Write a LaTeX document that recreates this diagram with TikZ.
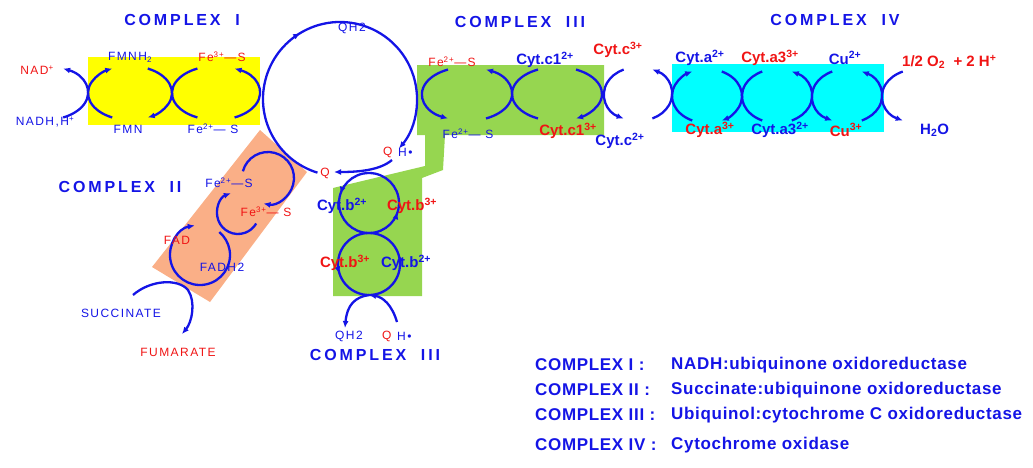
\documentclass[tikz,border=0pt]{standalone}
\usepackage{fontspec}
\setmainfont{Liberation Sans}
\usetikzlibrary{arrows.meta,decorations.markings}
\definecolor{cb}{RGB}{20,20,230}
\definecolor{cr}{RGB}{240,20,20}
\definecolor{yel}{RGB}{255,255,0}
\definecolor{grn}{RGB}{150,214,80}
\definecolor{cya}{RGB}{0,255,255}
\definecolor{org}{RGB}{250,175,135}
\newcommand\su[1]{\textsuperscript{#1}}
\newcommand\sbx[1]{\textsubscript{#1}}
\tikzset{
 ch/.style={draw=cb,line width=2.3pt},
 tipE/.style={-{Latex[length=7pt,width=6pt]}},
 tipS/.style={{Latex[length=7pt,width=6pt]}-},
 bl/.style={text=cb,inner sep=0pt},
 rd/.style={text=cr,inner sep=0pt},
 ttl/.style={text=cb,font=\fontsize{16}{16}\selectfont\bfseries\addfontfeature{LetterSpace=18},inner sep=0pt},
 sm/.style={font=\fontsize{12}{12}\selectfont\addfontfeature{LetterSpace=12}},
 big/.style={font=\fontsize{15}{15}\selectfont\bfseries},
 leg/.style={text=cb,font=\fontsize{17}{17}\selectfont\bfseries\addfontfeature{LetterSpace=4},inner sep=0pt,anchor=west},
 mk/.style={postaction={decorate,decoration={markings,mark=at position #1 with {\arrow{Latex[length=7pt,width=6pt]}}}}}
}
\newcommand\larc[5]{\draw[ch,#5] (#1,#2) ++(115:#3 and #4) arc[start angle=115,end angle=245,x radius=#3,y radius=#4];}
\newcommand\rarc[5]{\draw[ch,#5] (#1,#2) ++(-65:#3 and #4) arc[start angle=-65,end angle=65,x radius=#3,y radius=#4];}
\begin{document}
\begin{tikzpicture}[x=1pt,y=-1pt]
\useasboundingbox (0,0) rectangle (1033,467);
\fill[yel] (88,57) rectangle (260,125);
\fill[grn] (417,65) -- (604,65) -- (604,135) -- (445,135) -- (443,170) -- (422,178) -- (422,296) -- (333,296) -- (333,188) -- (425,166) -- (425,135) -- (417,135) -- cycle;
\fill[cya] (672,64) rectangle (884,132);
\fill[org] (260,130) -- (307,172) -- (210,302) -- (152,267) -- cycle;

\node[ttl] (t1) at (182,20) {COMPLEX \ I};
\node[ttl] (t2) at (120,187) {COMPLEX \ II};
\node[ttl] (t3) at (520,22) {COMPLEX \ III};
\node[ttl] (t4) at (835,20) {COMPLEX \ IV};
\node[ttl] (t5) at (375,355) {COMPLEX \ III};

% Complex I
\rarc{45}{93}{43}{27}{tipS}
\larc{130}{93}{42}{27}{tipE}
\rarc{130}{93}{42}{27}{tipE}
\larc{216}{93}{44}{27}{}
\rarc{216}{93}{44}{27}{tipS}
\node[rd,sm] (nad) at (37,70) {NAD\su{+}};
\node[bl,sm] (nadh) at (45,122) {NADH,H\su{+}};
\node[bl,sm] (fmnh) at (130,57) {FMNH\sbx{2}};
\node[bl,sm] (fmn) at (128,129) {FMN};
\node[rd,sm] (fe3a) at (222,57) {Fe\su{3+}---S};
\node[bl,sm] (fe2a) at (213,129) {Fe\su{2+}--- S};

% big Q cycle
\draw[ch,tipE,mk=0.45] (340,99) ++(107:77) arc[start angle=107,end angle=400,radius=77];
\node[bl,sm] (qh2) at (352,28) {QH2};
\node[rd,sm,anchor=west] (qha) at (383,152) {Q};
\node[bl,sm,anchor=west] (qhb) at (398,152) {H•};
\node[rd,sm] (q) at (325,173) {Q};
\coordinate (qs) at (392,160);
\coordinate (qe) at (334,172);
\draw[ch,tipE] (qs) .. controls (380,170) and (360,172) .. (qe);

% Complex III top
\larc{467}{94}{45}{27}{tipS}
\rarc{467}{94}{45}{27}{tipS}
\larc{557}{94}{45}{27}{}
\rarc{557}{94}{45}{27}{tipE}
\larc{638}{94}{34}{27}{tipS}
\rarc{638}{94}{34}{27}{tipS}
\node[rd,sm] (fe3b) at (452,62) {Fe\su{2+}---S};
\node[bl,sm] (fe2b) at (468,134) {Fe\su{2+}--- S};
\node[bl,big] (c12) at (545,60) {Cyt.c1\su{2+}};
\node[rd,big] (c13) at (568,131) {Cyt.c1\su{3+}};
\node[rd,big] (cc3) at (618,50) {Cyt.c\su{3+}};
\node[bl,big] (cc2) at (620,141) {Cyt.c\su{2+}};

% Complex IV
\larc{707}{96}{35}{27}{tipE}
\rarc{707}{96}{35}{27}{tipE}
\larc{777}{96}{35}{27}{}
\rarc{777}{96}{35}{27}{tipS}
\larc{847}{96}{35}{27}{tipS}
\rarc{847}{96}{35}{27}{tipS}
\larc{918}{96}{36}{27}{tipS}
\node[bl,big] (ca2) at (700,58) {Cyt.a\su{2+}};
\node[rd,big] (ca33) at (770,58) {Cyt.a3\su{3+}};
\node[bl,big] (cu2) at (845,58) {Cu\su{2+}};
\node[rd,big,anchor=west] (o2) at (902,62) {1/2 O\sbx{2} \ + 2 H\su{+}};
\node[rd,big] (ca3) at (710,130) {Cyt.a\su{3+}};
\node[bl,big] (ca32) at (780,130) {Cyt.a3\su{2+}};
\node[rd,big] (cu3) at (846,130) {Cu\su{3+}};
\node[bl,big,anchor=west] (h2o) at (920,130) {H\sbx{2}O};

% Complex III lower
\draw[ch,mk=0.2,mk=0.7] (369,173) arc[start angle=270,end angle=-90,radius=30];
\draw[ch,mk=0.3,mk=0.8] (369,233) arc[start angle=270,end angle=-90,radius=31];
\draw[ch,tipE] (369,295) .. controls (355,297) and (347,305) .. (345,328);
\draw[ch,tipS] (369,295) .. controls (383,297) and (392,305) .. (397,322);
\node[bl,big] (b2a) at (342,206) {Cyt.b\su{2+}};
\node[rd,big] (b3a) at (412,206) {Cyt.b\su{3+}};
\node[rd,big] (b3b) at (345,263) {Cyt.b\su{3+}};
\node[bl,big] (b2b) at (406,263) {Cyt.b\su{2+}};
\node[bl,sm] (qh2b) at (349,336) {QH2};
\node[rd,sm,anchor=west] (qhc) at (382,336) {Q};
\node[bl,sm,anchor=west] (qhd) at (397,336) {H•};

% Complex II
\draw[ch,tipE] (268,178) ++(195:26) arc[start angle=195,end angle=460,radius=26];
\draw[ch,tipS] (238,213) ++(250:21) arc[start angle=250,end angle=30,radius=21];
\draw[ch,tipS] (200,255) ++(260:30) arc[start angle=260,end angle=-50,radius=30];
\draw[ch,tipE] (133,295) .. controls (150,280) and (178,278) .. (188,290) .. controls (196,302) and (192,322) .. (182,334);
\node[bl,sm] (fe2c) at (229,183) {Fe\su{2+}---S};
\node[rd,sm] (fe3c) at (266,212) {Fe\su{3+}--- S};
\node[rd,sm] (fad) at (177,240) {FAD};
\node[bl,sm] (fadh) at (222,267) {FADH2};
\node[bl,sm] (succ) at (121,313) {SUCCINATE};
\node[rd,sm] (fum) at (178,352) {FUMARATE};

% legend
\node[leg] (l1) at (535,365) {COMPLEX I :};
\node[leg] (d1) at (671,365) {NADH:ubiquinone oxidoreductase};
\node[leg] (l2) at (535,390) {COMPLEX II :};
\node[leg] (d2) at (671,390) {Succinate:ubiquinone oxidoreductase};
\node[leg] (l3) at (535,415) {COMPLEX III :};
\node[leg] (d3) at (671,415) {Ubiquinol:cytochrome C oxidoreductase};
\node[leg] (l4) at (535,445) {COMPLEX IV :};
\node[leg] (d4) at (671,445) {Cytochrome oxidase};
\end{tikzpicture}
\end{document}
